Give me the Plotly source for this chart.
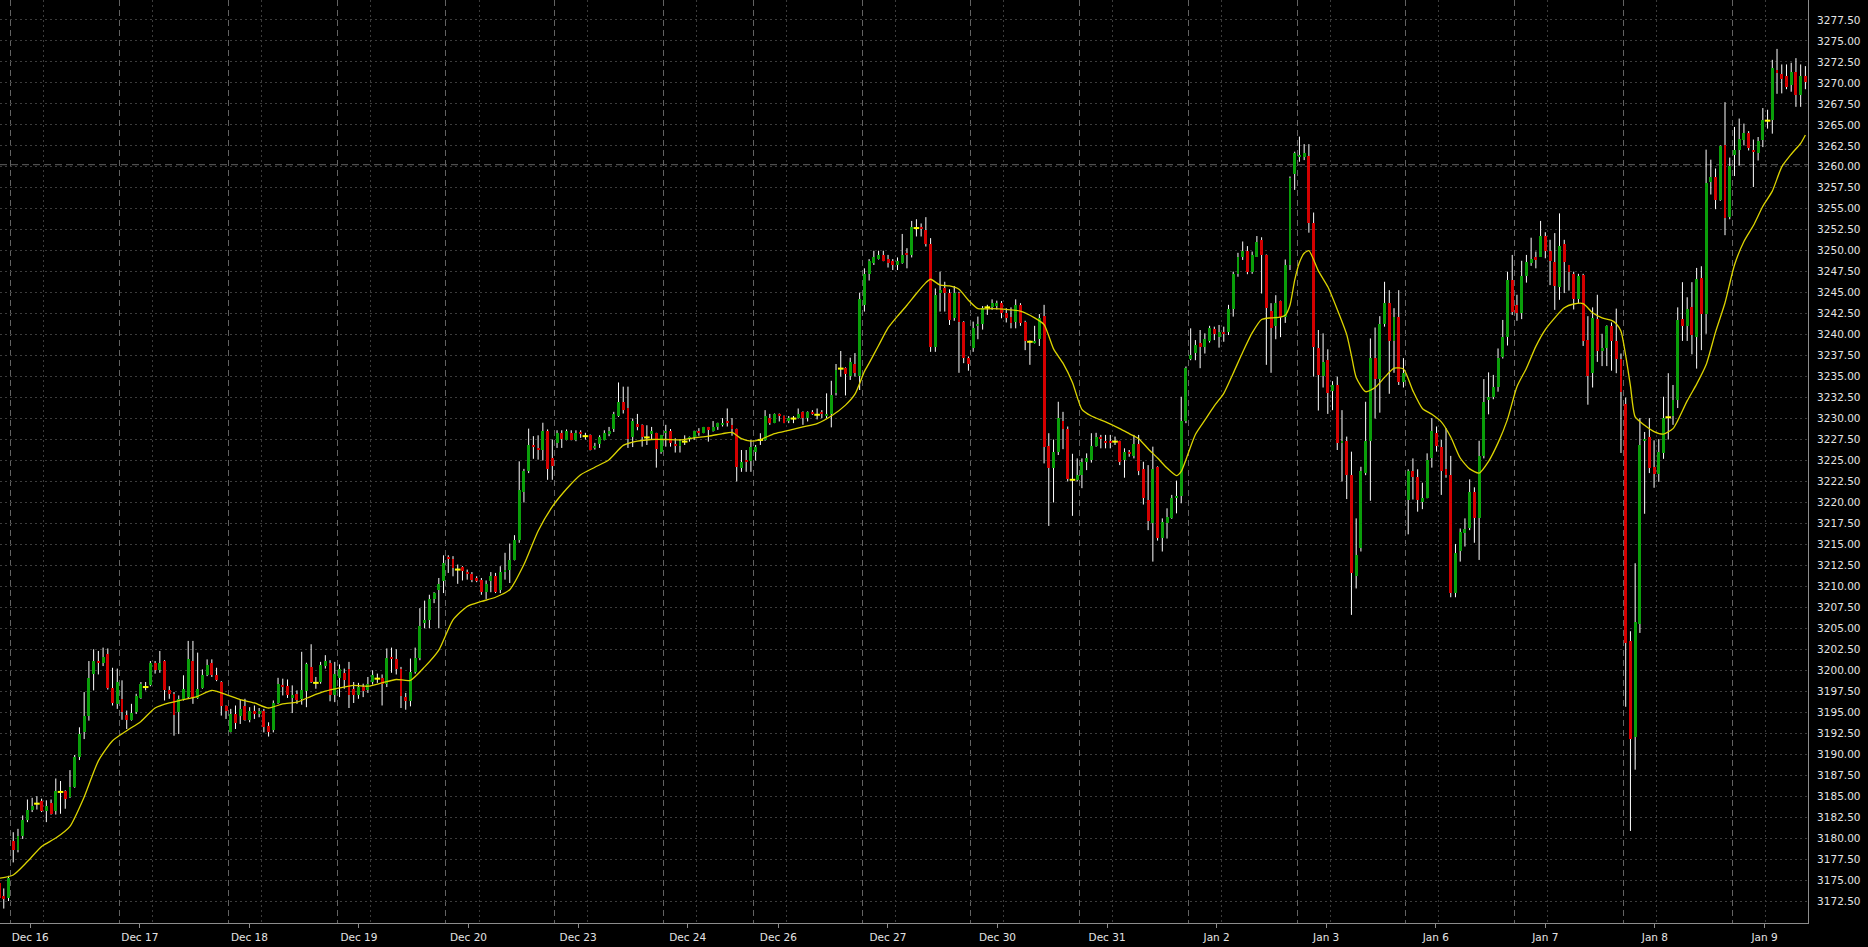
import plotly.graph_objects as go

# ---------------- data ----------------
session_labels = ["Dec 13", "Dec 16", "Dec 17", "Dec 18", "Dec 19", "Dec 20", "Dec 23", "Dec 24",
                  "Dec 26", "Dec 27", "Dec 30", "Dec 31", "Jan 2", "Jan 3", "Jan 6", "Jan 7",
                  "Jan 8", "Jan 9"]
bars_per_session = [3, 23, 23, 23, 23, 23, 23, 19, 23, 23, 23, 23, 23, 23, 23, 23, 23, 16]

opens = [
    3174.7, 3173.1, 3172.9, 3179.6, 3178.6, 3180.2, 3182.2, 3183.4, 3184.1, 3184.4,
    3183.2, 3184.2, 3183.2, 3185.5, 3185.6, 3184.9, 3186.1, 3189.7, 3192.7, 3194.5,
    3199.5, 3201.1, 3200.9, 3201.9, 3197.9, 3196.0, 3196.6, 3194.7, 3194.1, 3195.0,
    3196.7, 3198.0, 3198.2, 3200.9, 3200.0, 3201.1, 3197.7, 3197.2, 3195.0, 3196.6,
    3196.8, 3201.1, 3196.7, 3197.9, 3199.4, 3200.9, 3199.4, 3198.6, 3195.7, 3192.7,
    3194.8, 3194.5, 3195.7, 3194.1, 3195.1, 3194.9, 3195.1, 3193.4, 3192.9, 3196.1,
    3198.3, 3198.1, 3196.7, 3197.2, 3196.6, 3197.5, 3200.4, 3198.5, 3198.6, 3200.5,
    3200.9, 3197.0, 3199.1, 3199.7, 3200.1, 3197.8, 3197.0, 3198.0, 3197.7, 3198.6,
    3199.0, 3199.1, 3198.4, 3201.6, 3201.3, 3200.2, 3196.8, 3196.3, 3199.8, 3201.5,
    3205.6, 3206.0, 3208.5, 3209.6, 3210.6, 3213.5, 3213.3, 3212.0, 3212.3, 3211.7,
    3211.5, 3211.0, 3210.8, 3209.3, 3210.6, 3211.2, 3209.6, 3211.7, 3212.0, 3213.2,
    3215.5, 3221.3, 3223.8, 3226.9, 3226.5, 3226.3, 3228.5, 3225.3, 3227.1, 3228.3,
    3227.5, 3228.3, 3227.5, 3228.3, 3227.9, 3228.0, 3226.5, 3227.0, 3227.5, 3228.1,
    3228.8, 3230.3, 3232.0, 3231.2, 3227.8, 3229.4, 3229.2, 3227.75, 3228.1, 3228.25,
    3226.05, 3228.3, 3228.5, 3226.95, 3226.75, 3227.25, 3227.65, 3227.85, 3228.5, 3228.3,
    3228.95, 3228.5, 3229.05, 3229.3, 3229.7, 3229.25, 3228.75, 3224.05, 3225.05, 3224.95,
    3226.05, 3227.45, 3227.45, 3230.05, 3229.5, 3230.55, 3230.3, 3229.75, 3230.0, 3230.05,
    3230.8, 3230.05, 3230.8, 3230.45, 3230.8, 3230.3, 3230.55, 3233.0, 3235.95, 3236.05,
    3235.1, 3236.5, 3235.1, 3243.55, 3247.25, 3248.5, 3249.0, 3249.5, 3249.0, 3248.8,
    3248.3, 3248.5, 3249.7, 3249.5, 3252.7, 3252.8, 3252.45, 3250.8, 3238.55, 3245.0,
    3245.6, 3245.0, 3241.95, 3244.95, 3241.55, 3237.2, 3238.35, 3241.1, 3241.25, 3243.25,
    3243.25, 3243.4, 3243.75, 3242.55, 3242.05, 3241.55, 3243.5, 3241.55, 3239.15, 3239.05,
    3239.45, 3242.2, 3226.75, 3224.05, 3226.05, 3229.7, 3228.7, 3222.7, 3222.7, 3223.25,
    3224.8, 3225.05, 3226.75, 3227.8, 3227.35, 3227.3, 3227.25, 3227.3, 3225.05, 3226.0,
    3225.55, 3226.95, 3223.95, 3220.3, 3217.6, 3224.25, 3215.8, 3217.6, 3218.1, 3220.55,
    3220.75, 3229.7, 3237.05, 3237.85, 3238.95, 3238.5, 3239.3, 3240.65, 3239.75, 3240.3,
    3240.3, 3243.0, 3247.2, 3249.3, 3249.95, 3247.5, 3249.3, 3251.3, 3249.5, 3242.8,
    3241.05, 3244.0, 3242.05, 3248.3, 3259.2, 3261.2, 3261.2, 3261.3, 3253.25, 3238.45,
    3235.05, 3236.95, 3233.3, 3234.0, 3227.05, 3227.35, 3223.25, 3211.25, 3214.6, 3223.55,
    3227.35, 3237.25, 3234.7, 3241.25, 3243.8, 3239.3, 3242.05, 3234.3, 3220.35, 3223.8,
    3223.05, 3220.1, 3220.55, 3225.35, 3228.3, 3226.55, 3223.95, 3223.25, 3209.25, 3214.25,
    3216.3, 3216.9, 3221.3, 3218.1, 3225.55, 3232.2, 3232.6, 3233.8, 3237.3, 3239.75,
    3246.5, 3243.55, 3242.55, 3247.0, 3248.5, 3249.2, 3249.3, 3251.75, 3250.0, 3248.6,
    3245.65, 3250.8, 3248.25, 3247.25, 3244.3, 3247.05, 3239.4, 3235.4, 3241.9, 3238.05,
    3238.35, 3241.0, 3239.25, 3237.05, 3231.7, 3203.5, 3192.1, 3205.55, 3227.4, 3227.8,
    3224.25, 3223.35, 3225.9, 3230.15, 3230.35, 3232.25, 3241.9, 3241.0, 3243.25, 3239.7,
    3246.8, 3242.45, 3258.15, 3258.75, 3256.05, 3262.55, 3254.05, 3261.35, 3262.0, 3263.15,
    3264.0, 3261.95, 3261.6, 3263.25, 3265.5, 3265.6, 3271.55, 3271.05, 3270.8, 3269.75,
    3271.35, 3268.55, 3270.8,
]

highs = [
    3175.3, 3174.0, 3175.5, 3180.7, 3181.1, 3182.7, 3184.6, 3184.8, 3185.0, 3184.7,
    3184.5, 3184.6, 3187.1, 3186.8, 3185.7, 3188.1, 3189.9, 3193.2, 3197.4, 3201.1,
    3202.5, 3202.3, 3202.7, 3202.6, 3200.3, 3200.2, 3198.8, 3195.2, 3196.0, 3197.2,
    3198.6, 3198.6, 3201.1, 3201.1, 3202.3, 3201.2, 3198.1, 3197.4, 3197.0, 3199.4,
    3203.5, 3203.5, 3202.1, 3200.1, 3201.3, 3201.3, 3200.3, 3198.7, 3195.8, 3195.4,
    3195.8, 3196.5, 3196.6, 3195.6, 3195.8, 3195.5, 3195.4, 3193.8, 3196.4, 3199.1,
    3199.0, 3198.9, 3198.2, 3197.6, 3202.2, 3200.9, 3203.1, 3199.2, 3201.0, 3201.8,
    3201.2, 3201.0, 3200.7, 3200.2, 3201.0, 3198.6, 3198.5, 3198.4, 3199.2, 3200.0,
    3199.6, 3199.5, 3202.6, 3202.7, 3202.5, 3200.4, 3197.3, 3201.4, 3202.7, 3207.4,
    3208.3, 3209.0, 3209.3, 3211.0, 3213.7, 3213.7, 3213.6, 3212.6, 3212.4, 3212.0,
    3211.7, 3211.2, 3211.0, 3210.7, 3211.7, 3211.6, 3212.4, 3214.0, 3215.1, 3216.1,
    3224.9, 3224.0, 3228.8, 3227.9, 3228.0, 3229.5, 3228.7, 3227.5, 3228.6, 3228.6,
    3228.7, 3228.6, 3228.6, 3228.6, 3228.3, 3228.1, 3227.1, 3228.0, 3228.6, 3229.0,
    3230.8, 3234.3, 3233.8, 3233.8, 3230.0, 3230.55, 3229.3, 3229.2, 3229.0, 3228.3,
    3228.05, 3229.25, 3228.75, 3227.65, 3227.55, 3228.0, 3227.85, 3228.55, 3228.85, 3229.0,
    3229.0, 3229.7, 3229.5, 3230.05, 3231.2, 3230.05, 3228.8, 3226.25, 3226.25, 3227.45,
    3226.85, 3228.25, 3231.0, 3230.55, 3230.6, 3230.6, 3230.35, 3230.3, 3230.3, 3231.2,
    3230.85, 3230.85, 3231.0, 3231.2, 3231.0, 3233.0, 3234.5, 3236.5, 3238.05, 3236.1,
    3237.25, 3237.8, 3245.0, 3247.9, 3249.0, 3250.0, 3250.0, 3250.0, 3249.5, 3249.0,
    3249.2, 3252.0, 3250.3, 3253.55, 3253.75, 3253.25, 3254.0, 3251.5, 3245.5, 3247.5,
    3246.3, 3245.4, 3245.8, 3245.1, 3241.6, 3237.4, 3241.55, 3242.15, 3243.4, 3243.55,
    3244.2, 3244.05, 3244.0, 3243.15, 3243.25, 3244.2, 3243.75, 3241.65, 3239.3, 3241.05,
    3242.45, 3243.55, 3228.25, 3227.5, 3232.0, 3230.8, 3229.05, 3225.8, 3225.25, 3225.25,
    3225.85, 3228.25, 3228.3, 3228.05, 3228.05, 3228.05, 3227.85, 3227.35, 3226.45, 3226.25,
    3228.05, 3228.05, 3224.85, 3224.45, 3226.65, 3224.3, 3218.1, 3219.3, 3220.9, 3222.6,
    3232.6, 3236.2, 3240.75, 3239.35, 3240.55, 3240.15, 3241.05, 3240.95, 3241.15, 3240.95,
    3243.55, 3247.5, 3249.75, 3251.1, 3250.55, 3249.9, 3251.75, 3251.6, 3249.55, 3243.75,
    3244.7, 3244.05, 3248.95, 3258.85, 3261.8, 3263.6, 3262.7, 3262.7, 3254.55, 3240.55,
    3240.15, 3238.25, 3234.45, 3235.0, 3231.0, 3227.85, 3226.05, 3218.1, 3224.25, 3232.0,
    3239.55, 3240.85, 3242.2, 3246.3, 3245.3, 3243.15, 3245.3, 3237.2, 3223.95, 3225.25,
    3223.95, 3222.35, 3225.85, 3230.05, 3229.05, 3227.45, 3228.85, 3225.55, 3215.05, 3216.9,
    3218.1, 3222.75, 3221.8, 3227.35, 3234.7, 3235.5, 3235.2, 3238.35, 3241.75, 3247.5,
    3249.5, 3244.75, 3248.8, 3249.5, 3251.55, 3249.9, 3253.55, 3252.2, 3251.3, 3252.1,
    3254.45, 3251.3, 3248.3, 3247.5, 3247.25, 3247.25, 3242.2, 3243.25, 3244.75, 3240.1,
    3241.1, 3241.45, 3243.1, 3237.75, 3232.5, 3204.65, 3212.75, 3230.05, 3228.4, 3230.05,
    3227.4, 3227.55, 3232.6, 3235.4, 3234.0, 3243.25, 3246.25, 3244.45, 3246.25, 3247.95,
    3248.15, 3262.05, 3260.85, 3259.8, 3262.55, 3267.7, 3261.1, 3264.75, 3265.75, 3265.15,
    3264.25, 3263.25, 3263.55, 3267.0, 3266.8, 3272.75, 3274.05, 3272.2, 3272.2, 3272.4,
    3272.95, 3272.2, 3272.0,
]

lows = [
    3170.9, 3171.6, 3172.5, 3177.1, 3178.3, 3179.9, 3181.9, 3183.1, 3183.4, 3183.1,
    3181.9, 3182.8, 3182.8, 3182.9, 3183.5, 3184.8, 3186.0, 3189.3, 3191.8, 3194.0,
    3197.6, 3199.5, 3200.5, 3197.7, 3195.8, 3195.4, 3194.1, 3193.0, 3194.0, 3194.8,
    3196.6, 3197.6, 3198.1, 3199.6, 3199.7, 3196.4, 3196.6, 3192.2, 3192.4, 3196.4,
    3196.6, 3196.0, 3196.6, 3197.8, 3199.3, 3199.2, 3198.7, 3194.6, 3194.2, 3192.6,
    3193.0, 3193.6, 3194.0, 3193.8, 3194.2, 3194.4, 3192.6, 3192.1, 3192.6, 3196.0,
    3197.0, 3196.7, 3194.9, 3196.0, 3195.9, 3195.6, 3198.5, 3197.8, 3198.4, 3200.2,
    3196.3, 3196.2, 3196.8, 3197.8, 3195.5, 3196.1, 3196.6, 3196.8, 3197.3, 3198.3,
    3198.5, 3195.8, 3198.0, 3199.7, 3199.5, 3195.5, 3195.3, 3195.7, 3199.6, 3201.2,
    3205.0, 3205.0, 3208.0, 3205.0, 3209.2, 3211.6, 3211.2, 3210.3, 3210.7, 3210.8,
    3210.5, 3210.5, 3209.0, 3208.5, 3209.3, 3209.2, 3209.2, 3210.8, 3210.4, 3213.1,
    3215.2, 3220.0, 3223.5, 3225.2, 3225.1, 3225.0, 3222.7, 3222.7, 3226.5, 3226.5,
    3227.4, 3227.4, 3227.3, 3227.7, 3227.5, 3226.2, 3226.3, 3226.5, 3227.4, 3227.9,
    3228.4, 3230.2, 3230.6, 3226.5, 3226.6, 3228.6, 3226.65, 3226.85, 3227.45, 3224.15,
    3225.8, 3226.65, 3226.65, 3225.95, 3225.95, 3226.85, 3227.25, 3227.45, 3227.95, 3228.25,
    3227.25, 3228.45, 3228.65, 3229.05, 3229.05, 3227.95, 3222.5, 3223.65, 3223.65, 3223.65,
    3225.0, 3226.85, 3227.35, 3229.25, 3229.45, 3229.65, 3229.45, 3229.45, 3229.45, 3230.0,
    3229.25, 3229.65, 3230.45, 3229.9, 3230.05, 3230.05, 3228.95, 3232.75, 3235.0, 3232.75,
    3234.6, 3235.0, 3233.4, 3242.75, 3246.45, 3248.3, 3248.95, 3248.75, 3248.0, 3247.7,
    3247.7, 3248.45, 3247.9, 3249.2, 3251.7, 3251.7, 3250.5, 3237.95, 3237.95, 3242.75,
    3242.75, 3241.15, 3241.65, 3235.45, 3236.6, 3235.7, 3237.95, 3239.45, 3240.6, 3242.35,
    3242.95, 3243.0, 3241.95, 3241.45, 3240.75, 3240.75, 3241.05, 3238.15, 3236.4, 3238.95,
    3238.65, 3224.65, 3217.2, 3220.0, 3225.65, 3226.35, 3222.5, 3218.4, 3222.5, 3221.7,
    3223.85, 3224.75, 3226.65, 3226.45, 3226.45, 3226.45, 3226.85, 3224.45, 3222.95, 3225.45,
    3225.25, 3223.25, 3219.75, 3216.7, 3212.95, 3215.45, 3214.15, 3215.7, 3218.05, 3218.7,
    3219.9, 3229.45, 3236.95, 3236.95, 3236.0, 3237.75, 3239.05, 3239.35, 3238.45, 3239.15,
    3239.95, 3242.15, 3246.9, 3248.9, 3247.2, 3247.25, 3249.25, 3244.9, 3236.4, 3235.45,
    3239.45, 3239.7, 3241.4, 3247.7, 3257.25, 3260.6, 3260.8, 3252.15, 3235.0, 3230.95,
    3233.7, 3230.55, 3231.0, 3226.25, 3222.5, 3220.4, 3206.6, 3209.75, 3214.15, 3223.25,
    3220.2, 3230.0, 3230.7, 3240.95, 3232.95, 3235.45, 3234.0, 3233.7, 3216.2, 3220.35,
    3218.9, 3219.2, 3220.5, 3224.15, 3226.05, 3220.9, 3222.95, 3208.7, 3208.7, 3212.95,
    3214.75, 3216.7, 3215.2, 3213.15, 3225.25, 3230.5, 3232.3, 3233.2, 3237.15, 3238.7,
    3242.35, 3241.65, 3241.85, 3246.2, 3248.2, 3247.9, 3249.25, 3249.1, 3245.9, 3242.95,
    3244.15, 3244.95, 3245.25, 3243.0, 3243.75, 3238.65, 3231.65, 3233.7, 3236.75, 3236.25,
    3236.25, 3235.7, 3235.4, 3225.9, 3195.65, 3180.85, 3188.15, 3204.45, 3218.65, 3223.5,
    3221.75, 3222.45, 3225.2, 3227.5, 3229.25, 3231.25, 3239.25, 3239.25, 3237.65, 3235.95,
    3238.15, 3240.1, 3256.7, 3254.95, 3255.95, 3251.85, 3253.75, 3258.9, 3260.15, 3262.55,
    3261.95, 3257.6, 3260.75, 3262.35, 3264.55, 3263.95, 3268.7, 3268.75, 3269.25, 3268.95,
    3267.15, 3267.15, 3269.25,
]

closes = [
    3172.9, 3172.8, 3175.3, 3178.6, 3180.2, 3182.2, 3183.4, 3183.8, 3184.1, 3183.2,
    3183.8, 3182.9, 3185.6, 3185.5, 3184.7, 3186.1, 3189.7, 3192.4, 3194.5, 3199.1,
    3201.1, 3200.9, 3201.6, 3197.9, 3196.1, 3198.6, 3195.0, 3194.1, 3194.9, 3196.9,
    3198.4, 3198.0, 3200.9, 3200.0, 3200.9, 3197.7, 3197.2, 3194.7, 3196.6, 3197.8,
    3201.3, 3196.7, 3197.8, 3199.4, 3200.6, 3199.4, 3198.8, 3195.7, 3195.1, 3194.8,
    3193.7, 3195.4, 3194.1, 3195.1, 3194.9, 3195.1, 3193.2, 3192.7, 3196.1, 3198.4,
    3198.1, 3197.0, 3197.0, 3196.4, 3197.7, 3200.7, 3198.6, 3198.5, 3200.6, 3201.1,
    3197.0, 3199.5, 3200.1, 3198.9, 3197.0, 3197.0, 3198.0, 3197.5, 3198.4, 3199.4,
    3199.0, 3198.4, 3201.5, 3201.3, 3200.1, 3196.9, 3196.3, 3199.8, 3201.5, 3205.3,
    3206.0, 3208.5, 3209.2, 3210.3, 3212.8, 3213.3, 3212.2, 3212.0, 3211.8, 3211.5,
    3210.8, 3210.6, 3209.3, 3210.3, 3211.2, 3209.3, 3211.7, 3212.0, 3213.2, 3215.5,
    3221.5, 3223.8, 3226.9, 3226.7, 3226.3, 3228.5, 3224.0, 3224.4, 3228.3, 3227.6,
    3228.5, 3227.5, 3228.3, 3228.2, 3227.9, 3226.3, 3226.7, 3227.8, 3228.3, 3228.5,
    3230.6, 3232.0, 3231.0, 3227.6, 3229.7, 3229.0, 3227.85, 3227.75, 3228.5, 3226.35,
    3228.0, 3228.5, 3227.05, 3226.8, 3227.35, 3227.25, 3227.75, 3228.5, 3228.3, 3228.95,
    3228.6, 3228.95, 3229.45, 3229.45, 3229.5, 3228.75, 3224.25, 3224.85, 3224.85, 3226.6,
    3226.6, 3227.45, 3230.3, 3229.5, 3230.55, 3230.35, 3229.5, 3230.05, 3230.0, 3230.55,
    3230.05, 3230.8, 3230.6, 3230.45, 3230.6, 3230.55, 3232.8, 3235.8, 3235.95, 3235.3,
    3236.75, 3235.4, 3244.2, 3247.25, 3248.8, 3249.2, 3249.5, 3248.8, 3248.5, 3248.3,
    3248.8, 3249.5, 3249.5, 3252.8, 3252.7, 3252.55, 3250.8, 3238.55, 3244.75, 3245.3,
    3245.0, 3241.75, 3245.0, 3241.55, 3237.2, 3236.5, 3240.75, 3241.25, 3243.15, 3243.25,
    3243.75, 3243.75, 3242.55, 3242.0, 3241.35, 3243.5, 3241.35, 3239.3, 3239.15, 3239.2,
    3241.95, 3226.55, 3224.05, 3226.0, 3230.05, 3228.7, 3222.85, 3222.7, 3223.25, 3224.8,
    3225.3, 3226.75, 3227.8, 3227.6, 3227.05, 3227.05, 3227.25, 3224.85, 3226.0, 3225.75,
    3226.95, 3223.8, 3220.55, 3217.8, 3223.95, 3215.8, 3217.7, 3218.3, 3220.55, 3220.75,
    3229.7, 3236.0, 3237.55, 3238.75, 3238.55, 3239.45, 3240.85, 3240.05, 3240.3, 3240.15,
    3243.0, 3247.2, 3249.3, 3249.95, 3247.5, 3249.5, 3251.0, 3249.5, 3243.15, 3240.85,
    3243.75, 3242.15, 3248.3, 3258.65, 3261.6, 3261.4, 3261.6, 3253.35, 3238.55, 3235.2,
    3236.7, 3233.1, 3234.0, 3227.05, 3227.3, 3223.25, 3211.55, 3213.75, 3223.8, 3227.35,
    3237.25, 3234.7, 3241.25, 3243.8, 3239.3, 3242.05, 3234.3, 3235.4, 3223.8, 3223.05,
    3220.35, 3220.55, 3225.05, 3228.5, 3226.75, 3223.8, 3223.25, 3209.25, 3214.0, 3216.5,
    3216.8, 3221.3, 3218.1, 3225.55, 3232.0, 3232.6, 3233.8, 3237.25, 3239.75, 3246.5,
    3242.75, 3242.55, 3247.0, 3248.6, 3249.0, 3249.0, 3251.75, 3250.0, 3248.8, 3245.8,
    3250.55, 3248.6, 3247.5, 3244.2, 3247.0, 3239.25, 3235.1, 3242.0, 3238.05, 3238.45,
    3241.0, 3239.25, 3237.15, 3233.15, 3203.25, 3191.8, 3205.75, 3226.9, 3227.55, 3224.1,
    3223.35, 3226.0, 3230.05, 3230.15, 3232.25, 3241.75, 3241.0, 3243.1, 3240.0, 3246.6,
    3242.4, 3258.05, 3258.75, 3256.05, 3262.5, 3253.9, 3260.1, 3262.0, 3263.35, 3264.0,
    3262.25, 3261.8, 3263.05, 3265.6, 3265.5, 3271.75, 3271.15, 3270.45, 3269.55, 3271.35,
    3268.55, 3270.8, 3270.05,
]

# moving-average line (bar number, price)
ma_bar = [
    0, 3, 6, 9, 12, 15, 18, 21, 24, 27,
    30, 33, 36, 39, 42, 45, 48, 51, 54, 57,
    60, 63, 66, 69, 72, 75, 78, 81, 84, 87,
    90, 93, 96, 99, 102, 105, 108, 111, 114, 117,
    120, 123, 126, 129, 132, 135, 138, 141, 144, 147,
    150, 153, 155, 157, 159, 161, 164, 167, 170, 173,
    176, 179, 181, 183, 184, 186, 188, 190, 192, 194,
    196, 197, 199, 201, 203, 205, 207, 210, 213, 216,
    219, 221, 223, 225, 227, 229, 231, 234, 237, 239,
    241, 243, 245, 247, 249, 250, 251, 253, 255, 257,
    259, 261, 263, 265, 267, 269, 271, 272, 273, 274,
    275, 276, 277, 279, 281, 283, 285, 286, 287, 289,
    291, 293, 295, 297, 299, 301, 303, 305, 307, 309,
    311, 313, 315, 317, 319, 321, 323, 325, 327, 329,
    331, 333, 335, 337, 339, 341, 342, 343, 344, 345,
    346, 348, 350, 352, 354, 355, 357, 359, 361, 363,
    365, 367, 369, 371, 373, 375, 377, 379, 381, 382,
]
ma_value = [
    3175.2, 3175.6, 3177.2, 3179.0, 3180.0, 3181.4, 3184.9, 3189.2, 3191.6, 3192.8,
    3193.9, 3195.5, 3196.1, 3196.5, 3196.9, 3197.6, 3197.1, 3196.5, 3196.1, 3195.5,
    3196.0, 3196.2, 3196.9, 3197.5, 3197.9, 3198.2, 3198.1, 3198.5, 3198.9, 3198.8,
    3200.4, 3202.4, 3206.0, 3207.6, 3208.2, 3208.7, 3209.6, 3212.6, 3216.6, 3219.5,
    3221.6, 3223.3, 3224.2, 3225.1, 3226.8, 3227.3, 3227.5, 3227.5, 3227.45, 3227.7,
    3227.9, 3228.2, 3228.35, 3227.6, 3227.3, 3227.5, 3228.2, 3228.6, 3229.0, 3229.4,
    3230.3, 3231.6, 3232.9, 3235.6, 3236.6, 3238.7, 3240.8, 3242.2, 3243.5, 3244.9,
    3246.2, 3246.6, 3245.9, 3245.8, 3245.4, 3244.1, 3243.1, 3243.1, 3243.0, 3242.8,
    3242.0, 3241.2, 3238.3, 3236.6, 3234.3, 3231.1, 3230.3, 3229.6, 3228.8, 3228.2,
    3227.6, 3226.4, 3225.3, 3224.1, 3223.2, 3223.7, 3225.1, 3228.1, 3229.8, 3231.5,
    3233.0, 3235.4, 3237.9, 3240.2, 3241.8, 3242.0, 3242.1, 3242.3, 3243.5, 3246.5,
    3248.6, 3249.7, 3250.0, 3247.6, 3245.7, 3243.0, 3240.0, 3237.5, 3234.9, 3233.2,
    3233.7, 3234.9, 3236.0, 3235.9, 3233.3, 3231.2, 3230.5, 3229.6, 3227.8, 3225.3,
    3224.0, 3223.5, 3224.9, 3227.1, 3229.9, 3233.8, 3236.0, 3238.6, 3240.6, 3242.0,
    3243.2, 3243.65, 3243.7, 3242.6, 3242.0, 3241.7, 3241.3, 3240.4, 3237.5, 3233.9,
    3230.2, 3229.2, 3228.45, 3228.15, 3228.8, 3229.75, 3232.1, 3234.1, 3236.4, 3240.3,
    3243.8, 3248.3, 3251.1, 3253.0, 3255.3, 3257.1, 3260.0, 3261.5, 3262.8, 3263.8,
]

level_line = 3260.25
y_first_tick = 3172.5
y_last_tick = 3277.5
y_tick_step = 2.5

# ---------------- styling ----------------
BG = "#000000"
GREEN = "#0a9e0a"
RED = "#d40000"
WICK = "#ffffff"
DOJI = "#ffff00"
MA_COLOR = "#dcd400"
AXIS = "#8c8c8c"
GRID_DOT = "#3c3c3c"
GRID_DASH = "#626262"
TXT = "#e4e4e4"
FONT = "DejaVu Sans"

n = len(opens)
xs = list(range(n))

# session geometry
starts = []
s = 0
for b in bars_per_session:
    starts.append(s)
    s += b
sessions = starts[1:]
labels = session_labels[1:]
sep_pos = [st - 0.5 for st in sessions]
dot_pos = [st + 6.5 for st in sessions]
m = len(sessions)
label_pos = [st + 3.6 + 2.75 * j / (m - 1) for j, st in enumerate(sessions)]

# wicks (drawn in the base subplot, underneath everything else)
wx, wy = [], []
for i in xs:
    wx += [i, i, None]
    wy += [lows[i], highs[i], None]

up_x = [i for i in xs if closes[i] > opens[i]]
dn_x = [i for i in xs if closes[i] < opens[i]]
dj_x = [i for i in xs if closes[i] == opens[i]]

fig = go.Figure()
fig.add_trace(go.Scatter(x=wx, y=wy, mode="lines", line=dict(color=WICK, width=1),
                         hoverinfo="skip", showlegend=False))
# bodies, dojis and the average sit on the overlay subplot so they paint over the wicks
fig.add_trace(go.Bar(x=up_x, base=[opens[i] for i in up_x],
                     y=[closes[i] - opens[i] for i in up_x], width=0.62, xaxis="x2",
                     marker=dict(color=GREEN, line=dict(width=0)), hoverinfo="skip",
                     showlegend=False))
fig.add_trace(go.Bar(x=dn_x, base=[closes[i] for i in dn_x],
                     y=[opens[i] - closes[i] for i in dn_x], width=0.62, xaxis="x2",
                     marker=dict(color=RED, line=dict(width=0)), hoverinfo="skip",
                     showlegend=False))
fig.add_trace(go.Scatter(x=dj_x, y=[closes[i] for i in dj_x], mode="markers", xaxis="x2",
                         marker=dict(symbol="line-ew", size=4, line=dict(color=DOJI, width=2)),
                         hoverinfo="skip", showlegend=False))
fig.add_trace(go.Scatter(x=ma_bar, y=ma_value, mode="lines", xaxis="x2",
                         line=dict(color=MA_COLOR, width=1.3, shape="spline", smoothing=0.6),
                         hoverinfo="skip", showlegend=False))

x_range = [0.2, 382.55]
y_range = [3169.88, 3279.88]
y_ticks = []
v = y_first_tick
while v <= y_last_tick + 1e-9:
    y_ticks.append(round(v, 2))
    v += y_tick_step

fig.add_shape(type="line", xref="paper", x0=0, x1=1, yref="y", y0=level_line, y1=level_line,
              line=dict(color=GRID_DASH, width=1, dash="7px,4px"), layer="below")

fig.update_layout(
    width=1868, height=947,
    margin=dict(l=0, r=60, t=0, b=24),
    paper_bgcolor=BG, plot_bgcolor=BG,
    barmode="overlay", bargap=0, bargroupgap=0,
    showlegend=False,
    font=dict(family=FONT, size=10.5, color=TXT),
    xaxis=dict(range=x_range, tickmode="array", tickvals=label_pos, ticktext=labels,
               ticks="outside", ticklen=4, tickcolor=AXIS, tickwidth=1,
               showgrid=False, zeroline=False, showline=True, linecolor=AXIS, linewidth=1,
               tickfont=dict(family=FONT, size=10.5, color=TXT), fixedrange=True,
               minor=dict(tickmode="array", tickvals=sep_pos, ticks="", showgrid=True,
                          gridcolor=GRID_DASH, gridwidth=1, griddash="6px,4px")),
    xaxis2=dict(range=x_range, overlaying="x", anchor="y", side="bottom",
                tickmode="array", tickvals=dot_pos, showticklabels=False, ticks="",
                showgrid=True, gridcolor=GRID_DOT, gridwidth=1, griddash="2px,3px",
                zeroline=False, showline=False, fixedrange=True),
    yaxis=dict(range=y_range, side="right", tickmode="array", tickvals=y_ticks,
               tickformat=".2f", ticks="outside", ticklen=6, tickcolor="rgba(0,0,0,0)",
               showgrid=True, gridcolor=GRID_DOT, gridwidth=1, griddash="2px,3px",
               zeroline=False, showline=True, linecolor=AXIS, linewidth=1,
               tickfont=dict(family=FONT, size=10.5, color=TXT), fixedrange=True),
)

fig.write_html("out.html",
               config={"displayModeBar": False},
               post_script="document.body.style.margin='0';document.body.style.padding='0';")
